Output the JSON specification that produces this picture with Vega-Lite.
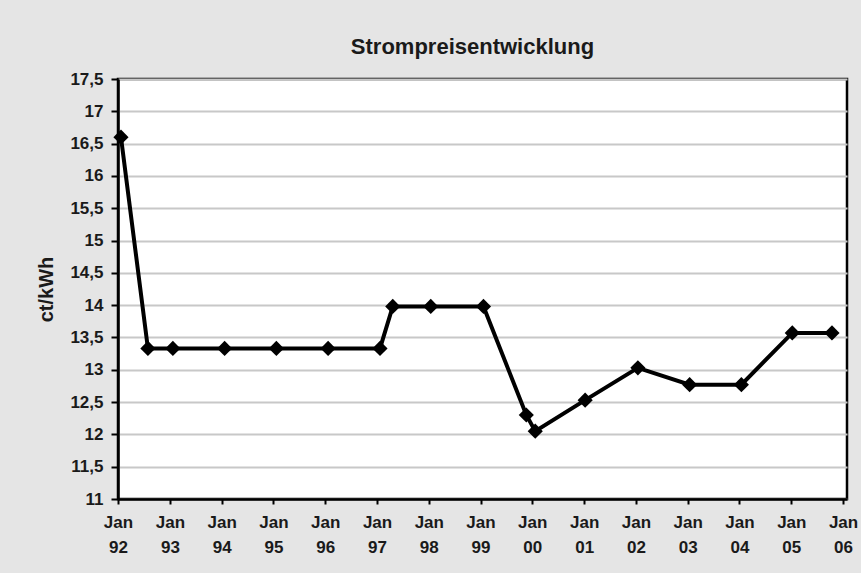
{
  "$schema": "https://vega.github.io/schema/vega-lite/v6.json",
  "autosize": {"type": "none"},
  "width": 729,
  "height": 420,
  "padding": {"left": 118, "top": 79, "right": 14, "bottom": 74},
  "background": "#e5e5e5",
  "title": {
    "text": "Strompreisentwicklung",
    "frame": "group",
    "anchor": "middle",
    "baseline": "alphabetic",
    "offset": 24,
    "dy": 30,
    "dx": -10,
    "font": "Liberation Sans",
    "fontSize": 22,
    "fontWeight": "bold",
    "color": "#1a1a1a"
  },
  "config": {
    "view": {"fill": "white", "stroke": "black", "strokeWidth": 2.5},
    "axis": {
      "labelFont": "Liberation Sans",
      "labelFontWeight": "bold",
      "labelColor": "#1a1a1a",
      "titleFont": "Liberation Sans",
      "titleFontWeight": "bold",
      "titleColor": "#1a1a1a",
      "domainColor": "black",
      "domainWidth": 2.5,
      "tickColor": "black",
      "tickWidth": 2
    }
  },
  "data": {
    "values": [
      {"date": "1992-01-22", "price": 16.6},
      {"date": "1992-07-30", "price": 13.33},
      {"date": "1993-01-22", "price": 13.33},
      {"date": "1994-01-22", "price": 13.33},
      {"date": "1995-01-22", "price": 13.33},
      {"date": "1996-01-22", "price": 13.33},
      {"date": "1997-01-22", "price": 13.33},
      {"date": "1997-04-22", "price": 13.98},
      {"date": "1998-01-15", "price": 13.98},
      {"date": "1999-01-22", "price": 13.98},
      {"date": "1999-11-20", "price": 12.3},
      {"date": "2000-01-22", "price": 12.05},
      {"date": "2001-01-08", "price": 12.53},
      {"date": "2002-01-15", "price": 13.03},
      {"date": "2003-01-15", "price": 12.77},
      {"date": "2004-01-15", "price": 12.77},
      {"date": "2005-01-08", "price": 13.57},
      {"date": "2005-10-15", "price": 13.57}
    ]
  },
  "encoding": {
    "x": {
      "field": "date",
      "type": "temporal",
      "scale": {
        "type": "utc",
        "domain": [
          {"year": 1992, "month": 1, "date": 1, "utc": true},
          {"year": 2006, "month": 1, "date": 29, "utc": true}
        ],
        "nice": false
      },
      "axis": {
        "title": null,
        "grid": false,
        "values": [
          {"year": 1992, "month": 1, "date": 1, "utc": true},
          {"year": 1993, "month": 1, "date": 1, "utc": true},
          {"year": 1994, "month": 1, "date": 1, "utc": true},
          {"year": 1995, "month": 1, "date": 1, "utc": true},
          {"year": 1996, "month": 1, "date": 1, "utc": true},
          {"year": 1997, "month": 1, "date": 1, "utc": true},
          {"year": 1998, "month": 1, "date": 1, "utc": true},
          {"year": 1999, "month": 1, "date": 1, "utc": true},
          {"year": 2000, "month": 1, "date": 1, "utc": true},
          {"year": 2001, "month": 1, "date": 1, "utc": true},
          {"year": 2002, "month": 1, "date": 1, "utc": true},
          {"year": 2003, "month": 1, "date": 1, "utc": true},
          {"year": 2004, "month": 1, "date": 1, "utc": true},
          {"year": 2005, "month": 1, "date": 1, "utc": true},
          {"year": 2006, "month": 1, "date": 1, "utc": true}
        ],
        "labelExpr": "['Jan', utcFormat(datum.value, '%y')]",
        "labelFontSize": 17,
        "labelLineHeight": 25,
        "labelPadding": 10,
        "labelOverlap": false,
        "labelFlush": false,
        "tickSize": 5
      }
    },
    "y": {
      "field": "price",
      "type": "quantitative",
      "scale": {"domain": [11, 17.5], "nice": false, "zero": false},
      "axis": {
        "title": "ct/kWh",
        "titleFontSize": 20,
        "titleAngle": -90,
        "titleX": -72,
        "titleY": 210,
        "titleAlign": "center",
        "titleBaseline": "middle",
        "values": [11, 11.5, 12, 12.5, 13, 13.5, 14, 14.5, 15, 15.5, 16, 16.5, 17, 17.5],
        "labelExpr": "replace(format(datum.value, '.1~f'), '.', ',')",
        "labelFontSize": 17,
        "labelPadding": 8,
        "labelFlush": false,
        "labelOverlap": false,
        "tickSize": 7,
        "grid": true,
        "gridColor": "#c8c8c8",
        "gridWidth": 2
      }
    }
  },
  "layer": [
    {"mark": {"type": "line", "color": "black", "strokeWidth": 4}},
    {"mark": {"type": "point", "shape": "diamond", "filled": true, "color": "black", "size": 230, "opacity": 1}}
  ]
}
